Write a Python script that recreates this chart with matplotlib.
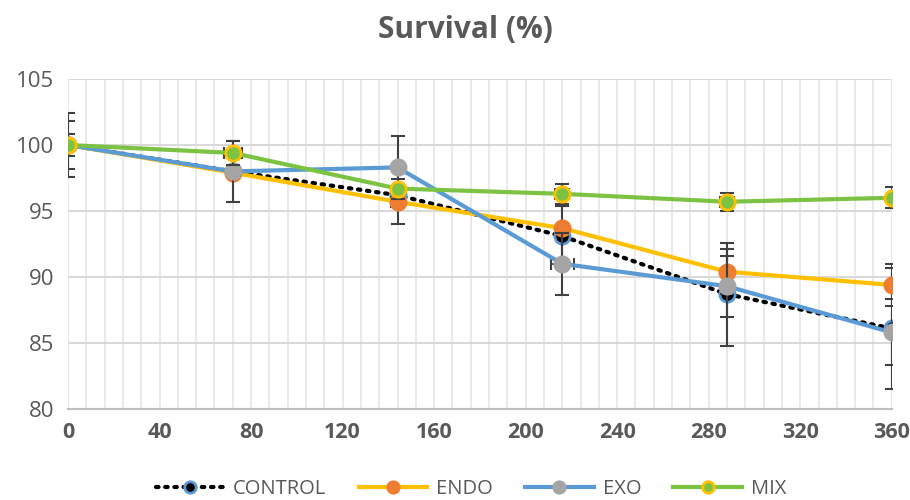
import matplotlib
matplotlib.use("Agg")
import matplotlib.pyplot as plt
import numpy as np
from matplotlib.ticker import MultipleLocator

hours = [0, 72, 144, 216, 288, 360]
control = [100, 98.0, 96.2, 93.1, 88.7, 86.1]
endo = [100, 97.9, 95.7, 93.7, 90.4, 89.4]
exo = [100, 98.0, 98.3, 91.0, 89.3, 85.8]
mix = [100, 99.4, 96.7, 96.3, 95.7, 96.0]

control_err = [2.4, 0.0, 0.0, 2.3, 3.9, 4.6]
endo_err = [0.0, 0.0, 1.7, 0.0, 1.7, 1.6]
exo_err = [1.8, 2.3, 2.4, 2.35, 2.3, 2.5]
mix_err = [0.8, 0.9, 0.0, 0.75, 0.7, 0.8]

mix_xerr = [0, 4, 0, 3, 3, 0]
exo_xerr = [0, 0, 0, 5, 0, 0]
endo_xerr = [0, 0, 3, 0, 0, 0]

series_names = ["CONTROL", "ENDO", "EXO", "MIX"]
title = "Survival (%)"

TXT = "#595959"
ERR = "#404040"

fig = plt.figure(figsize=(9.1, 5.0), dpi=100)
ax = fig.add_axes([0.0747, 0.182, 0.9053, 0.66])

x = np.array(hours, dtype=float)

def draw(vals, yerr, xerr, line_color, ls, mfc, mec, label, z):
    vals = np.array(vals)
    ax.errorbar(x, vals, yerr=yerr, fmt="none", ecolor=ERR, elinewidth=1.5,
                capsize=5, capthick=1.5, zorder=z - 0.5)
    xe = np.array(xerr, dtype=float)
    m = xe > 0
    if m.any():
        ax.errorbar(x[m], vals[m], xerr=xe[m], fmt="none", ecolor=ERR,
                    elinewidth=1.2, capsize=4, capthick=1.5, zorder=z - 0.5)
    if ls == "dotted":
        ax.plot(x, vals, color=line_color, lw=3, ls=(0, (0.6, 1.6)),
                dash_capstyle="round", zorder=z, label=label,
                marker="o", ms=11, mfc=mfc, mec=mec, mew=2)
    else:
        ax.plot(x, vals, color=line_color, lw=3, ls="-", zorder=z, label=label,
                marker="o", ms=11, mfc=mfc, mec=mec, mew=2)

draw(control, control_err, [0]*6, "black", "dotted", "black", "#5B9BD5", series_names[0], 3)
draw(endo, endo_err, endo_xerr, "#FFC000", "-", "#ED7D31", "#ED7D31", series_names[1], 4)
draw(exo, exo_err, exo_xerr, "#5B9BD5", "-", "#A5A5A5", "#A5A5A5", series_names[2], 5)
draw(mix, mix_err, mix_xerr, "#7CC243", "-", "#7CC243", "#FFC000", series_names[3], 6)

ax.set_xlim(0, 360)
ax.set_ylim(80, 105)
ax.xaxis.set_major_locator(MultipleLocator(40))
ax.xaxis.set_minor_locator(MultipleLocator(8))
ax.yaxis.set_major_locator(MultipleLocator(5))
ax.grid(which="minor", axis="x", color="#E6E6E6", lw=1.2, zorder=0)
ax.grid(which="major", axis="x", color="#E6E6E6", lw=1.2, zorder=0)
ax.grid(which="major", axis="y", color="#D9D9D9", lw=1.5, zorder=0)
ax.set_axisbelow(True)
for s in ["top", "right", "left"]:
    ax.spines[s].set_visible(False)
ax.spines["bottom"].set_color("#BFBFBF")
ax.spines["bottom"].set_linewidth(1.5)
ax.tick_params(axis="both", which="both", length=0)
ax.tick_params(axis="x", pad=9)
ax.tick_params(axis="y", pad=10)
for lab in ax.get_xticklabels():
    lab.set_fontfamily("Open Sans")
    lab.set_fontweight("bold")
    lab.set_fontsize(15.5)
    lab.set_color(TXT)
for lab in ax.get_yticklabels():
    lab.set_fontfamily("Open Sans")
    lab.set_fontsize(16)
    lab.set_color(TXT)

fig.text(0.511, 0.94, title, ha="center", va="center", fontsize=21.5,
         fontweight="bold", color=TXT, family="Open Sans")

leg = fig.legend(loc="center", bbox_to_anchor=(0.5176, 0.022), ncol=4, frameon=False,
                 prop={"family": "Open Sans", "size": 14.5}, handlelength=3.4,
                 columnspacing=1.6, handletextpad=0.45, markerscale=0.75)
for t in leg.get_texts():
    t.set_color(TXT)

fig.savefig("out.png", dpi=100)
